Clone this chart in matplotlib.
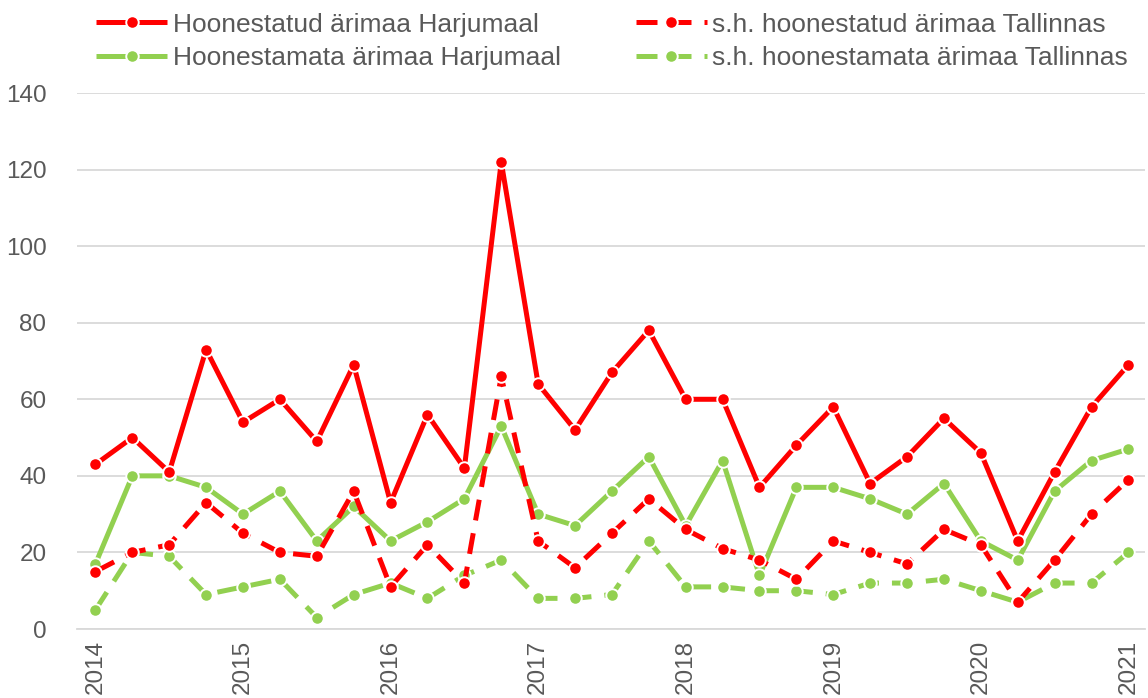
import matplotlib.pyplot as plt
import numpy as np

plt.rcParams['font.family'] = ['Liberation Sans', 'DejaVu Sans']

# Quarterly data, 2014 Q1 .. 2021 Q1
years = ['2014', '2015', '2016', '2017', '2018', '2019', '2020', '2021']

built_harju = [43, 50, 41, 73, 54, 60, 49, 69, 33, 56, 42, 122, 64, 52, 67, 78,
               60, 60, 37, 48, 58, 38, 45, 55, 46, 23, 41, 58, 69]
built_tallinn = [15, 20, 22, 33, 25, 20, 19, 36, 11, 22, 12, 66, 23, 16, 25, 34,
                 26, 21, 18, 13, 23, 20, 17, 26, 22, 7, 18, 30, 39]
unbuilt_harju = [17, 40, 40, 37, 30, 36, 23, 32, 23, 28, 34, 53, 30, 27, 36, 45,
                 27, 44, 14, 37, 37, 34, 30, 38, 23, 18, 36, 44, 47]
unbuilt_tallinn = [5, 20, 19, 9, 11, 13, 3, 9, 12, 8, 14, 18, 8, 8, 9, 23,
                   11, 11, 10, 10, 9, 12, 12, 13, 10, 7, 12, 12, 20]

labels = ['Hoonestatud ärimaa Harjumaal', 'Hoonestamata ärimaa Harjumaal',
          's.h. hoonestatud ärimaa Tallinnas', 's.h. hoonestamata ärimaa Tallinnas']

red = '#ff0000'
green = '#92d050'
grey = '#595959'

fig = plt.figure(figsize=(11.48, 6.98), dpi=100)
ax = fig.add_axes([77 / 1148, 1 - 629 / 698, 1068 / 1148, (629 - 93) / 698])

x = np.arange(len(built_harju))
common = dict(lw=3.6, marker='o', ms=9, mec='white', mew=1.4,
              solid_capstyle='butt', dash_capstyle='butt')
dash = (4.2, 2.6)

l1, = ax.plot(x, unbuilt_tallinn, color=green, dashes=dash, **common)
l2, = ax.plot(x, unbuilt_harju, color=green, **common)
l3, = ax.plot(x, built_tallinn, color=red, dashes=dash, **common)
l4, = ax.plot(x, built_harju, color=red, **common)

ax.set_ylim(0, 140)
ax.set_yticks(range(0, 141, 20))
ax.set_xlim(-0.5, 28.45)
ax.set_xticks(range(0, len(x), 4))
ax.set_xticklabels(years, rotation=90)
ax.tick_params(length=0, labelsize=17.5, colors=grey)
ax.tick_params(axis='y', pad=22)
ax.tick_params(axis='x', pad=8)
ax.grid(axis='y', color='#d9d9d9', lw=1.3)
ax.set_axisbelow(True)
for s in ['top', 'right', 'left']:
    ax.spines[s].set_visible(False)
ax.spines['bottom'].set_color('#d9d9d9')
ax.spines['bottom'].set_linewidth(1.3)

leg = fig.legend([l4, l2, l3, l1], labels, ncol=2, loc='upper left',
                 bbox_to_anchor=(0.063, 1.016), frameon=False, fontsize=19,
                 handlelength=2.7, handletextpad=0.2, columnspacing=2.85,
                 labelspacing=0.35, labelcolor=grey)

fig.savefig('out.png', dpi=100)
